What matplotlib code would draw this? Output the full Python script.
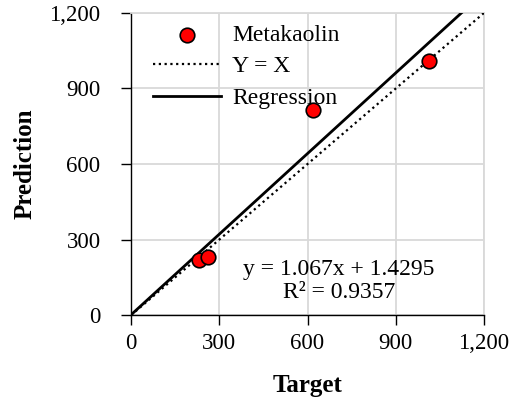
import matplotlib.pyplot as plt
import numpy as np

plt.rcParams['font.family'] = ['Liberation Serif', 'DejaVu Serif']

# Data
target = np.array([231, 261, 618, 1012])
prediction = np.array([218, 230, 814, 1009])
slope, intercept = 1.067, 1.4295
r2 = 0.9357
ticks = [0, 300, 600, 900, 1200]
tick_labels = ['0', '300', '600', '900', '1,200']

fig = plt.figure(figsize=(5.16, 4.03), dpi=100)
ax = fig.add_axes([0.254, 0.218, 0.684, 0.750])

grid_c = '#d9d9d9'

ax.scatter(target, prediction, s=110, color='red', edgecolors='black',
           linewidths=1.2, zorder=4, label='Metakaolin')
xl = np.array([0, 1200])
ax.plot(xl, xl, linestyle=(0, (1, 1.6)), color='black', linewidth=1.6,
        zorder=3, label='Y = X')
xr = np.array([0, (1200 - intercept) / slope])
ax.plot(xr, slope * xr + intercept, color='black', linewidth=2, zorder=3,
        label='Regression')

ax.set_xlim(0, 1200)
ax.set_ylim(0, 1200)
ax.set_xticks(ticks)
ax.set_xticklabels(tick_labels)
ax.set_yticks(ticks)
ax.set_yticklabels(tick_labels)
ax.tick_params(labelsize=16.5, length=7, width=1, direction='out')
ax.tick_params(axis='x', pad=6)
ax.tick_params(axis='y', pad=15)
ax.grid(True, color=grid_c, linewidth=1.3)
ax.set_axisbelow(True)

for s in ['top', 'right']:
    ax.spines[s].set_color(grid_c)
    ax.spines[s].set_linewidth(1.3)
for s in ['left', 'bottom']:
    ax.spines[s].set_color('black')
    ax.spines[s].set_linewidth(1)

ax.set_xlabel('Target', fontsize=18, fontweight='bold', labelpad=14)
ax.set_ylabel('Prediction', fontsize=18, fontweight='bold', labelpad=9)

ax.text(706, 136, 'y = 1.067x + 1.4295\nR² = 0.9357', fontsize=17,
        ha='center', va='center', linespacing=1.15)

ax.legend(loc='upper left', bbox_to_anchor=(0.062, 0.962), frameon=False,
          fontsize=17, borderpad=0, borderaxespad=0, handlelength=2.9,
          handletextpad=0.45, labelspacing=0.42)

fig.savefig('out.png', dpi=100)
